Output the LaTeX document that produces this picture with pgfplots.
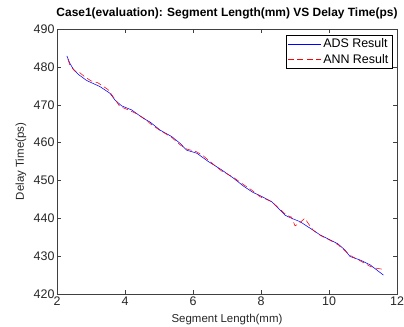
\documentclass[border=0pt]{standalone}
\usepackage{pgfplots}
\pgfplotsset{compat=1.18}
\usepackage{fontspec}
\setmainfont{Liberation Sans}
\begin{document}
\begin{tikzpicture}
\path[use as bounding box] (0,0) rectangle (404bp,327bp);
\begin{axis}[
  at={(57bp,33bp)}, anchor=south west,
  scale only axis, width=340bp, height=265bp,
  xmin=2, xmax=12, ymin=420, ymax=490,
  xtick={2,4,...,12}, ytick={420,430,...,490},
  tick align=inside, tick pos=both,
  major tick length=4bp,
  axis line style={draw=black!75},
  every tick/.style={black!75},
  /pgf/number format/assume math mode=true,
  tick label style={font=\fontsize{12.5}{14}\selectfont, text=black!85},
  xticklabel style={yshift=1bp},
  yticklabel style={xshift=1bp},
  xlabel={Segment Length(mm)}, ylabel={Delay Time(ps)},
  label style={font=\fontsize{11.5}{13}\selectfont, text=black!85},
  xlabel style={at={(axis description cs:0.5,-0.098)}, anchor=center},
  ylabel style={at={(axis description cs:-0.106,0.5)}, anchor=center},
  title={Case1(evaluation): Segment Length(mm) VS Delay Time(ps)},
  title style={font=\fontsize{12}{14}\selectfont\bfseries, at={(axis description cs:0.5,1.038)}, anchor=center},
  legend style={at={(axis description cs:1,1)}, xshift=-5bp, yshift=-6bp, anchor=north east, font=\fontsize{12.5}{14}\selectfont, inner sep=1.5bp, row sep=1bp},
  legend cell align=left,
]
\addplot[blue, line width=0.55pt,
  legend image code/.code={\draw[blue, line width=0.55pt] (0bp,0bp) -- (33bp,0bp);}] coordinates {
(2.29,482.9) (2.38,480.9) (2.48,479.4) (2.63,478.0) (2.87,476.4) (3.26,474.8)
(3.56,473.0) (3.71,471.2) (3.90,469.7) (4.20,468.6) (4.54,466.4) (4.74,465.4)
(5.03,463.3) (5.37,461.6) (5.62,459.8) (5.81,458.0) (6.11,457.2) (6.45,455.0)
(6.84,452.8) (7.19,450.6) (7.50,448.4) (7.77,446.8) (7.97,446.0) (8.31,444.4)
(8.51,442.6) (8.71,440.8) (8.90,440.0) (9.15,439.1) (9.44,437.4) (9.74,435.6)
(10.03,434.3) (10.27,433.2) (10.47,431.6) (10.62,429.9) (10.91,429.0) (11.21,427.7)
(11.60,425.0)
};
\addlegendentry{ADS Result}
\addplot[red, line width=0.55pt, dash pattern=on 6bp off 3.5bp,
  legend image code/.code={\draw[red, line width=0.6pt, dash pattern=on 6bp off 3.5bp] (0bp,0bp) -- (33bp,0bp);}] coordinates {
(2.32,482.0) (2.38,480.4) (2.52,478.9) (2.65,478.6) (2.80,477.5) (3.0,476.3)
(3.2,475.8) (3.5,474.0) (3.7,471.5) (3.85,469.5) (4.0,469.0) (4.3,467.8)
(4.6,466.2) (4.74,465.0) (5.03,463.2) (5.37,461.4) (5.62,459.4) (5.81,458.3)
(6.1,457.6) (6.3,456.5) (6.5,455.0) (6.84,452.5) (7.19,450.8) (7.5,448.8)
(7.72,447.5) (7.97,445.7) (8.31,444.4) (8.51,442.8) (8.75,440.8) (8.90,440.3)
(9.00,438.0) (9.10,438.5) (9.29,440.0) (9.40,438.5) (9.54,436.8) (9.74,435.5)
(10.03,434.2) (10.27,433.0) (10.47,431.4) (10.62,430.2) (10.91,428.8) (11.21,427.3)
(11.40,426.8) (11.60,426.5)
};
\addlegendentry{ANN Result}
\end{axis}
\end{tikzpicture}
\end{document}
